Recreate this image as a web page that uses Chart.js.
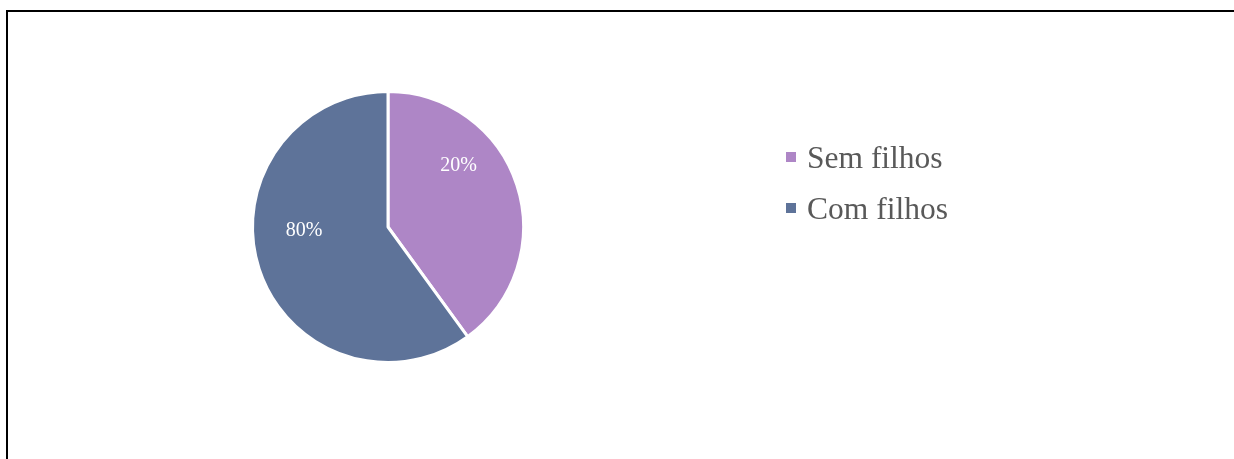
<!DOCTYPE html>
<html>
<head>
<meta charset="utf-8">
<script src="https://cdn.jsdelivr.net/npm/chart.js@4/dist/chart.umd.min.js"></script>
<style>
  html, body { margin: 0; padding: 0; background: #fff; }
  #wrap { position: relative; width: 1234px; height: 459px; overflow: hidden; }
  #frame {
    position: absolute; left: 6px; top: 10px; width: 1240px; height: 470px;
    border-left: 2px solid #000; border-top: 2px solid #000;
  }
  #pie { position: absolute; left: 0; top: 0; }
</style>
</head>
<body>
<div id="wrap">
  <div id="frame"></div>
  <canvas id="pie" width="1234" height="459"></canvas>
</div>
<script>
// DATA
const categories = ["Sem filhos", "Com filhos"];
const sliceValues = [40, 60];
const pctLabels = ["20%", "80%"];
const sliceColors = ["#AE86C6", "#5E7399"];

// data labels inside the slices
const sliceLabels = {
  id: "sliceLabels",
  afterDatasetsDraw(chart, args, opts) {
    const ctx = chart.ctx;
    const arcs = chart.getDatasetMeta(0).data;
    ctx.save();
    ctx.fillStyle = "#fff";
    ctx.font = "20px 'Liberation Serif', 'Times New Roman', serif";
    ctx.textAlign = "center";
    ctx.textBaseline = "middle";
    arcs.forEach((arc, i) => {
      let p = opts.pos[i];
      let a = arc.startAngle + (arc.endAngle - arc.startAngle) * p.f;
      let r = arc.outerRadius * p.r;
      ctx.fillText(pctLabels[i], arc.x + Math.cos(a) * r, arc.y + Math.sin(a) * r);
    });
    ctx.restore();
  }
};

// legend on the right
const sideLegend = {
  id: "sideLegend",
  afterDraw(chart, args, opts) {
    const ctx = chart.ctx;
    ctx.save();
    ctx.font = "31.5px 'Liberation Serif', 'Times New Roman', serif";
    ctx.textBaseline = "middle";
    categories.forEach((name, i) => {
      let y = opts.y + i * opts.gap;
      ctx.fillStyle = sliceColors[i];
      ctx.fillRect(opts.x, y - 5, 10, 10);
      ctx.fillStyle = "#595959";
      ctx.fillText(name, opts.x + 21, y + 3);
    });
    ctx.restore();
  }
};

new Chart(document.getElementById("pie"), {
  type: "pie",
  data: {
    labels: categories,
    datasets: [{
      data: sliceValues,
      backgroundColor: sliceColors,
      borderColor: "#fff",
      borderWidth: 3
    }]
  },
  options: {
    responsive: false,
    animation: false,
    layout: { padding: { left: 251, right: 709, top: 90, bottom: 95 } },
    plugins: {
      legend: { display: false },
      tooltip: { enabled: false },
      sliceLabels: { pos: [{ f: 0.34, r: 0.69 }, { f: 0.57, r: 0.62 }] },
      sideLegend: { x: 786, y: 157, gap: 51 }
    }
  },
  plugins: [sliceLabels, sideLegend]
});
</script>
</body>
</html>
